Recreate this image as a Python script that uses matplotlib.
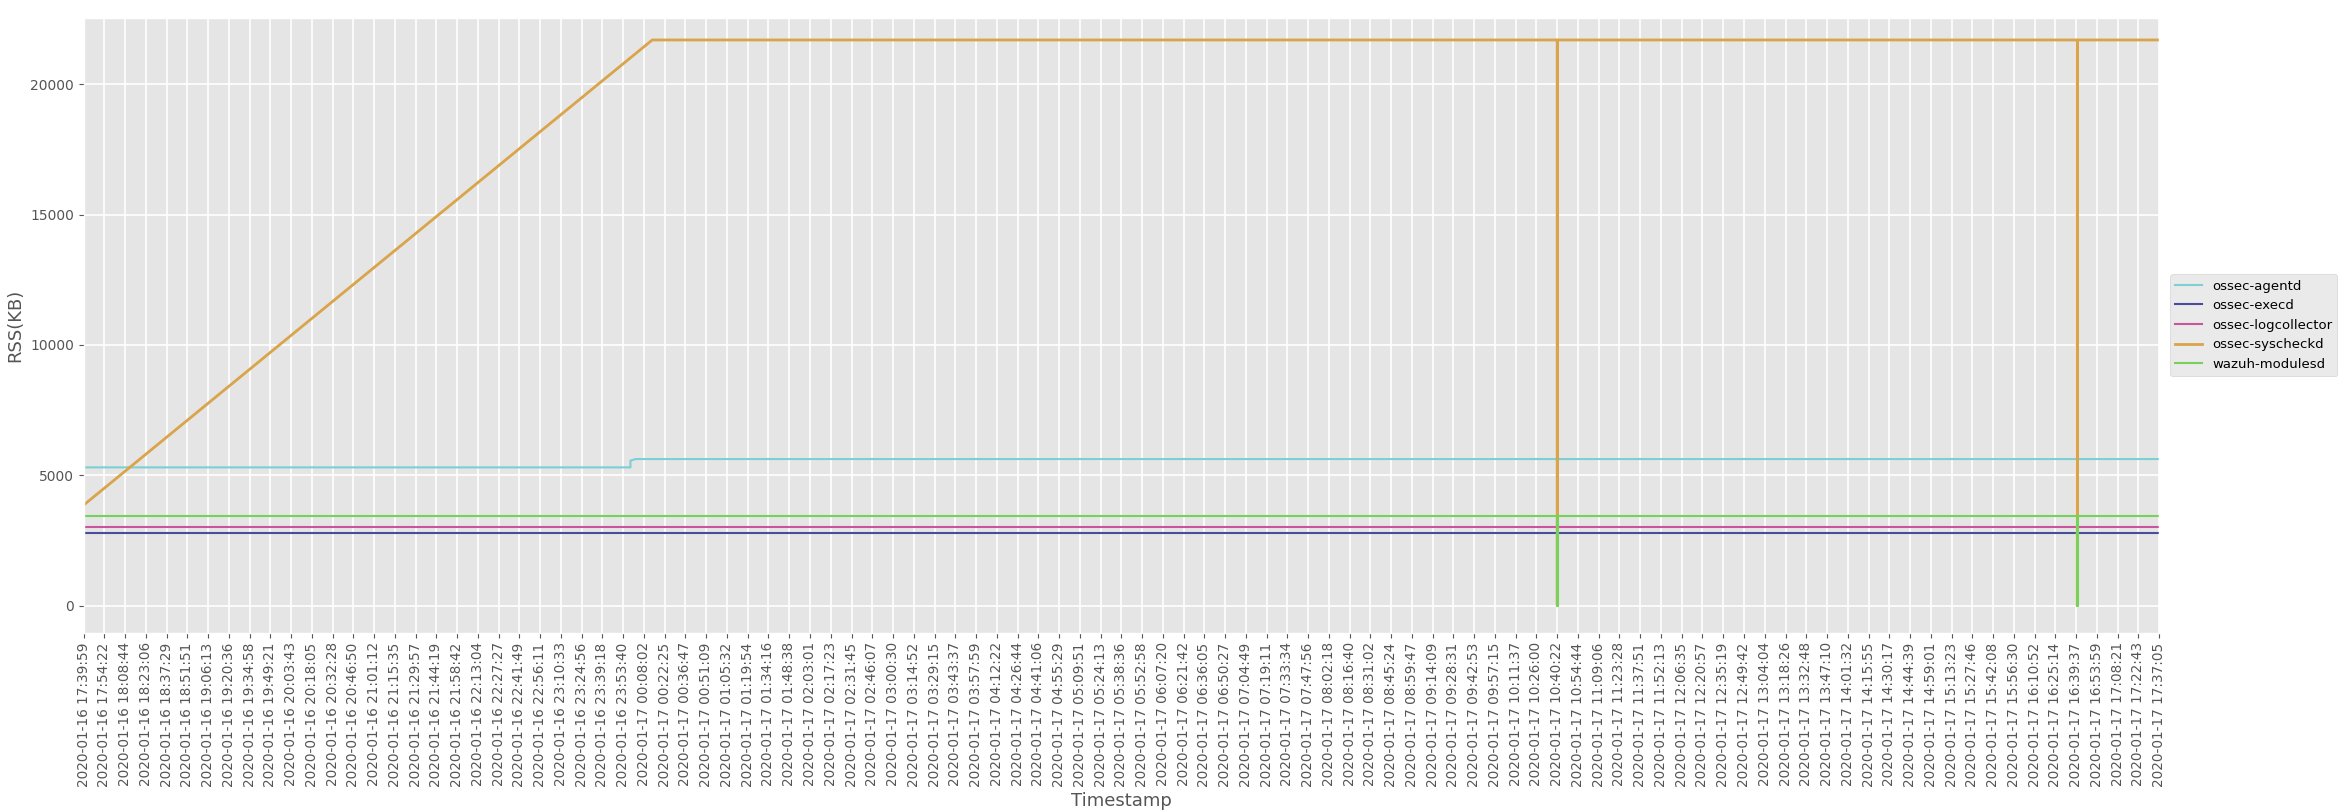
import matplotlib
matplotlib.use("Agg")
import matplotlib.pyplot as plt

tick_labels = ["2020-01-16 17:39:59","2020-01-16 17:54:22","2020-01-16 18:08:44","2020-01-16 18:23:06","2020-01-16 18:37:29","2020-01-16 18:51:51","2020-01-16 19:06:13","2020-01-16 19:20:36","2020-01-16 19:34:58","2020-01-16 19:49:21","2020-01-16 20:03:43","2020-01-16 20:18:05","2020-01-16 20:32:28","2020-01-16 20:46:50","2020-01-16 21:01:12","2020-01-16 21:15:35","2020-01-16 21:29:57","2020-01-16 21:44:19","2020-01-16 21:58:42","2020-01-16 22:13:04","2020-01-16 22:27:27","2020-01-16 22:41:49","2020-01-16 22:56:11","2020-01-16 23:10:33","2020-01-16 23:24:56","2020-01-16 23:39:18","2020-01-16 23:53:40","2020-01-17 00:08:02","2020-01-17 00:22:25","2020-01-17 00:36:47","2020-01-17 00:51:09","2020-01-17 01:05:32","2020-01-17 01:19:54","2020-01-17 01:34:16","2020-01-17 01:48:38","2020-01-17 02:03:01","2020-01-17 02:17:23","2020-01-17 02:31:45","2020-01-17 02:46:07","2020-01-17 03:00:30","2020-01-17 03:14:52","2020-01-17 03:29:15","2020-01-17 03:43:37","2020-01-17 03:57:59","2020-01-17 04:12:22","2020-01-17 04:26:44","2020-01-17 04:41:06","2020-01-17 04:55:29","2020-01-17 05:09:51","2020-01-17 05:24:13","2020-01-17 05:38:36","2020-01-17 05:52:58","2020-01-17 06:07:20","2020-01-17 06:21:42","2020-01-17 06:36:05","2020-01-17 06:50:27","2020-01-17 07:04:49","2020-01-17 07:19:11","2020-01-17 07:33:34","2020-01-17 07:47:56","2020-01-17 08:02:18","2020-01-17 08:16:40","2020-01-17 08:31:02","2020-01-17 08:45:24","2020-01-17 08:59:47","2020-01-17 09:14:09","2020-01-17 09:28:31","2020-01-17 09:42:53","2020-01-17 09:57:15","2020-01-17 10:11:37","2020-01-17 10:26:00","2020-01-17 10:40:22","2020-01-17 10:54:44","2020-01-17 11:09:06","2020-01-17 11:23:28","2020-01-17 11:37:51","2020-01-17 11:52:13","2020-01-17 12:06:35","2020-01-17 12:20:57","2020-01-17 12:35:19","2020-01-17 12:49:42","2020-01-17 13:04:04","2020-01-17 13:18:26","2020-01-17 13:32:48","2020-01-17 13:47:10","2020-01-17 14:01:32","2020-01-17 14:15:55","2020-01-17 14:30:17","2020-01-17 14:44:39","2020-01-17 14:59:01","2020-01-17 15:13:23","2020-01-17 15:27:46","2020-01-17 15:42:08","2020-01-17 15:56:30","2020-01-17 16:10:52","2020-01-17 16:25:14","2020-01-17 16:39:37","2020-01-17 16:53:59","2020-01-17 17:08:21","2020-01-17 17:22:43","2020-01-17 17:37:05"]

# x in units of tick index
agentd_x = [0, 26.35, 26.35, 26.6, 100]
agentd_y = [5300, 5300, 5560, 5620, 5620]
execd_x = [0, 100]
execd_y = [2800, 2800]
logcollector_x = [0, 100]
logcollector_y = [3000, 3000]
syscheck_x = [0, 27.4, 71.0, 71.0, 71.02, 71.02, 96.05, 96.05, 96.07, 96.07, 100]
syscheck_y = [3850, 21700, 21700, 0, 0, 21700, 21700, 0, 0, 21700, 21700]
modulesd_x = [0, 71.0, 71.0, 71.02, 71.02, 96.05, 96.05, 96.07, 96.07, 100]
modulesd_y = [3450, 3450, 0, 0, 3450, 3450, 0, 0, 3450, 3450]

plt.style.use("ggplot")
fig = plt.figure(figsize=(23.4, 8.1), dpi=100)
ax = fig.add_axes([0.0357, 0.219, 0.887, 0.759])
ax.plot(agentd_x, agentd_y, color="#7ccfd2", lw=1.5, label="ossec-agentd")
ax.plot(execd_x, execd_y, color="#4b4d9c", lw=1.5, label="ossec-execd")
ax.plot(logcollector_x, logcollector_y, color="#c9559c", lw=1.5, label="ossec-logcollector")
ax.plot(syscheck_x, syscheck_y, color="#d9a44a", lw=2, label="ossec-syscheckd")
ax.plot(modulesd_x, modulesd_y, color="#78d158", lw=1.5, label="wazuh-modulesd")
ax.set_xlim(0, 100)
ax.set_ylim(-1040, 22550)
ax.set_xticks(range(len(tick_labels)))
ax.set_xticklabels(tick_labels, rotation=90, fontsize=9.8)
ax.set_yticks([0, 5000, 10000, 15000, 20000])
ax.tick_params(axis="y", labelsize=10)
ax.grid(True, color="white", lw=1.2)
ax.set_xlabel("Timestamp", fontsize=13, color="#555555")
ax.set_ylabel("RSS(KB)", fontsize=13, color="#555555")
ax.legend(loc="center left", bbox_to_anchor=(1.002, 0.5), fontsize=9.5)
fig.savefig("out.png", dpi=100)
